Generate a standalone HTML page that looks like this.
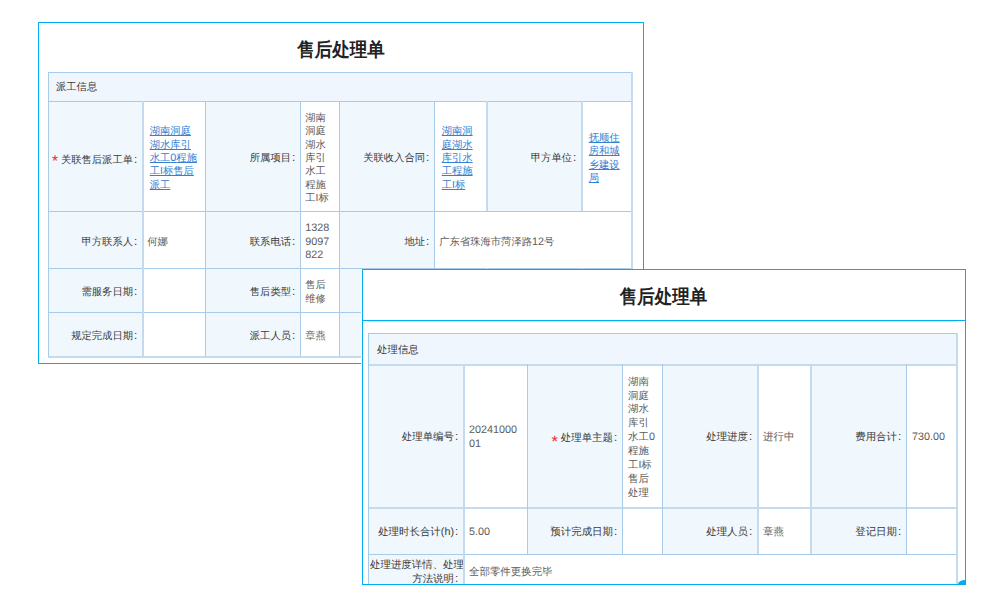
<!DOCTYPE html>
<html><head><meta charset="utf-8"><style>
html,body{margin:0;padding:0;background:#fff;}
body{width:1000px;height:600px;overflow:hidden;position:relative;font-family:"Liberation Sans",sans-serif;text-rendering:geometricPrecision;}
.panel{position:absolute;box-sizing:border-box;}
.title{position:absolute;text-align:center;font-size:17.5px;font-weight:bold;color:#222;line-height:24px;transform:scaleY(1.09);}
.t{position:absolute;display:flex;align-items:center;box-sizing:border-box;white-space:nowrap;font-size:10.3px;}
.t>div{flex:none;}
.n{font-size:10.8px;}
.c{font-size:11.5px;margin-left:1px;}
.st{color:#f0282d;font-weight:normal;font-size:15.5px;position:relative;top:3.1px;line-height:0;}
.sb{font-size:16.5px;top:5.8px;}
</style></head><body>
<div class="panel" style="left:38px;top:22px;width:606px;height:342px;border:1px solid #00aeef;"></div>
<div class="title" style="left:38px;width:606px;top:36.5px;">售后处理单</div>
<div style="position:absolute;left:48px;top:72px;width:583px;height:29px;background:#f0f6fd"></div>
<div class="t" style="left:48px;top:73.2px;width:583px;height:29px;line-height:13.33px;color:#3a3a3a;font-size:10.3px;"><div style="margin-left:8px;width:569px;text-align:left;">派工信息</div></div>
<div style="position:absolute;left:48px;top:101px;width:94px;height:110px;background:#f0f7fd"></div>
<div style="position:absolute;left:205px;top:101px;width:95px;height:110px;background:#f0f7fd"></div>
<div style="position:absolute;left:339px;top:101px;width:95px;height:110px;background:#f0f7fd"></div>
<div style="position:absolute;left:486px;top:101px;width:95px;height:110px;background:#f0f7fd"></div>
<div style="position:absolute;left:48px;top:268px;width:94px;height:44px;background:#f0f7fd"></div>
<div style="position:absolute;left:205px;top:268px;width:95px;height:44px;background:#f0f7fd"></div>
<div style="position:absolute;left:339px;top:268px;width:95px;height:44px;background:#f0f7fd"></div>
<div style="position:absolute;left:486px;top:268px;width:95px;height:44px;background:#f0f7fd"></div>
<div style="position:absolute;left:48px;top:312px;width:94px;height:44px;background:#f0f7fd"></div>
<div style="position:absolute;left:205px;top:312px;width:95px;height:44px;background:#f0f7fd"></div>
<div style="position:absolute;left:339px;top:312px;width:95px;height:44px;background:#f0f7fd"></div>
<div style="position:absolute;left:486px;top:312px;width:95px;height:44px;background:#f0f7fd"></div>
<div style="position:absolute;left:48px;top:211px;width:94px;height:57px;background:#f0f7fd"></div>
<div style="position:absolute;left:205px;top:211px;width:95px;height:57px;background:#f0f7fd"></div>
<div style="position:absolute;left:339px;top:211px;width:95px;height:57px;background:#f0f7fd"></div>
<div class="t" style="left:48px;top:105.6px;width:94px;height:110px;line-height:13.33px;color:#3a3a3a;font-size:10.3px;"><div style="margin-left:2px;width:87.2px;text-align:right;"><b class="st">*</b> 关联售后派工单<span class="c">:</span></div></div>
<div class="t" style="left:142px;top:103.8px;width:63px;height:110px;line-height:13.33px;color:#3580d0;font-size:10.3px;"><div style="margin-left:7.75px;width:55.25px;text-align:left;text-decoration:underline;">湖南洞庭<br>湖水库引<br>水工<span class="n">0</span>程施<br>工I标售后<br>派工</div></div>
<div class="t" style="left:205px;top:103.8px;width:95px;height:110px;line-height:13.33px;color:#3a3a3a;font-size:10.3px;"><div style="margin-left:2px;width:88.2px;text-align:right;">所属项目<span class="c">:</span></div></div>
<div class="t" style="left:300px;top:103.8px;width:39px;height:110px;line-height:13.33px;color:#5c5c5c;font-size:10.3px;"><div style="margin-left:5.3px;width:31.700000000000003px;text-align:left;">湖南<br>洞庭<br>湖水<br>库引<br>水工<br>程施<br>工I标</div></div>
<div class="t" style="left:339px;top:103.8px;width:95px;height:110px;line-height:13.33px;color:#3a3a3a;font-size:10.3px;"><div style="margin-left:2px;width:88.2px;text-align:right;">关联收入合同<span class="c">:</span></div></div>
<div class="t" style="left:434px;top:103.8px;width:52px;height:110px;line-height:13.33px;color:#3580d0;font-size:10.3px;"><div style="margin-left:7.75px;width:44.25px;text-align:left;text-decoration:underline;">湖南洞<br>庭湖水<br>库引水<br>工程施<br>工I标</div></div>
<div class="t" style="left:486px;top:103.8px;width:95px;height:110px;line-height:13.33px;color:#3a3a3a;font-size:10.3px;"><div style="margin-left:2px;width:88.2px;text-align:right;">甲方单位<span class="c">:</span></div></div>
<div class="t" style="left:581px;top:103.8px;width:50px;height:110px;line-height:13.33px;color:#3580d0;font-size:10.3px;"><div style="margin-left:7.75px;width:42.25px;text-align:left;text-decoration:underline;">抚顺住<br>房和城<br>乡建设<br>局</div></div>
<div class="t" style="left:48px;top:213.8px;width:94px;height:57px;line-height:13.33px;color:#3a3a3a;font-size:10.3px;"><div style="margin-left:2px;width:87.2px;text-align:right;">甲方联系人<span class="c">:</span></div></div>
<div class="t" style="left:142px;top:213.8px;width:63px;height:57px;line-height:13.33px;color:#5c5c5c;font-size:10.3px;"><div style="margin-left:5.3px;width:55.7px;text-align:left;">何娜</div></div>
<div class="t" style="left:205px;top:213.8px;width:95px;height:57px;line-height:13.33px;color:#3a3a3a;font-size:10.3px;"><div style="margin-left:2px;width:88.2px;text-align:right;">联系电话<span class="c">:</span></div></div>
<div class="t" style="left:300px;top:213.8px;width:39px;height:57px;line-height:13.33px;color:#5c5c5c;font-size:10.3px;"><div style="margin-left:5.3px;width:31.700000000000003px;text-align:left;"><span class="n">1328</span><br><span class="n">9097</span><br><span class="n">822</span></div></div>
<div class="t" style="left:339px;top:213.8px;width:95px;height:57px;line-height:13.33px;color:#3a3a3a;font-size:10.3px;"><div style="margin-left:2px;width:88.2px;text-align:right;">地址<span class="c">:</span></div></div>
<div class="t" style="left:434px;top:213.8px;width:197px;height:57px;line-height:13.33px;color:#5c5c5c;font-size:10.3px;"><div style="margin-left:5.3px;width:189.7px;text-align:left;">广东省珠海市菏泽路<span class="n">12</span>号</div></div>
<div class="t" style="left:48px;top:270.8px;width:94px;height:44px;line-height:13.33px;color:#3a3a3a;font-size:10.3px;"><div style="margin-left:2px;width:87.2px;text-align:right;">需服务日期<span class="c">:</span></div></div>
<div class="t" style="left:205px;top:270.8px;width:95px;height:44px;line-height:13.33px;color:#3a3a3a;font-size:10.3px;"><div style="margin-left:2px;width:88.2px;text-align:right;">售后类型<span class="c">:</span></div></div>
<div class="t" style="left:300px;top:270.8px;width:39px;height:44px;line-height:13.33px;color:#5c5c5c;font-size:10.3px;"><div style="margin-left:5.3px;width:31.700000000000003px;text-align:left;">售后<br>维修</div></div>
<div class="t" style="left:48px;top:314.8px;width:94px;height:44px;line-height:13.33px;color:#3a3a3a;font-size:10.3px;"><div style="margin-left:2px;width:87.2px;text-align:right;">规定完成日期<span class="c">:</span></div></div>
<div class="t" style="left:205px;top:314.8px;width:95px;height:44px;line-height:13.33px;color:#3a3a3a;font-size:10.3px;"><div style="margin-left:2px;width:88.2px;text-align:right;">派工人员<span class="c">:</span></div></div>
<div class="t" style="left:300px;top:314.8px;width:39px;height:44px;line-height:13.33px;color:#5c5c5c;font-size:10.3px;"><div style="margin-left:5.3px;width:31.700000000000003px;text-align:left;">章燕</div></div>
<div style="position:absolute;left:48px;top:72px;width:585px;height:1px;background:#a9cbea"></div>
<div style="position:absolute;left:48px;top:101px;width:585px;height:1px;background:#a9cbea"></div>
<div style="position:absolute;left:48px;top:211px;width:585px;height:1px;background:#a9cbea"></div>
<div style="position:absolute;left:48px;top:268px;width:585px;height:1px;background:#a9cbea"></div>
<div style="position:absolute;left:48px;top:312px;width:585px;height:1px;background:#a9cbea"></div>
<div style="position:absolute;left:48px;top:356px;width:585px;height:2px;background:#c3daef"></div>
<div style="position:absolute;left:48px;top:72px;width:1px;height:285px;background:#a9cbea"></div>
<div style="position:absolute;left:631px;top:72px;width:2px;height:285px;background:#c3daef"></div>
<div style="position:absolute;left:142px;top:101px;width:2px;height:255px;background:#c3daef"></div>
<div style="position:absolute;left:205px;top:101px;width:1px;height:255px;background:#a9cbea"></div>
<div style="position:absolute;left:300px;top:101px;width:1px;height:255px;background:#a9cbea"></div>
<div style="position:absolute;left:339px;top:101px;width:1px;height:255px;background:#a9cbea"></div>
<div style="position:absolute;left:434px;top:101px;width:1px;height:255px;background:#a9cbea"></div>
<div style="position:absolute;left:486px;top:101px;width:2px;height:110px;background:#c3daef"></div>
<div style="position:absolute;left:486px;top:268px;width:2px;height:88px;background:#c3daef"></div>
<div style="position:absolute;left:581px;top:101px;width:2px;height:110px;background:#c3daef"></div>
<div style="position:absolute;left:581px;top:268px;width:2px;height:88px;background:#c3daef"></div>
<div class="panel" style="left:361px;top:269px;width:605px;height:316px;background:#fff;"></div>
<div class="title" style="left:361.5px;width:604px;top:283.6px;">售后处理单</div>
<div style="position:absolute;left:0;top:0;width:1000px;height:584px;overflow:hidden;">
<div style="position:absolute;left:368px;top:333px;width:588px;height:31px;background:#f0f6fd"></div>
<div class="t" style="left:368px;top:335px;width:588px;height:31px;line-height:13.9px;color:#3a3a3a;font-size:10.45px;"><div style="margin-left:9px;width:573px;text-align:left;">处理信息</div></div>
<div style="position:absolute;left:368px;top:364px;width:95px;height:143px;background:#f0f7fd"></div>
<div style="position:absolute;left:527px;top:364px;width:95px;height:143px;background:#f0f7fd"></div>
<div style="position:absolute;left:662px;top:364px;width:95px;height:143px;background:#f0f7fd"></div>
<div style="position:absolute;left:810px;top:364px;width:96px;height:143px;background:#f0f7fd"></div>
<div style="position:absolute;left:368px;top:507px;width:95px;height:47px;background:#f0f7fd"></div>
<div style="position:absolute;left:527px;top:507px;width:95px;height:47px;background:#f0f7fd"></div>
<div style="position:absolute;left:662px;top:507px;width:95px;height:47px;background:#f0f7fd"></div>
<div style="position:absolute;left:810px;top:507px;width:96px;height:47px;background:#f0f7fd"></div>
<div style="position:absolute;left:368px;top:554px;width:95px;height:36px;background:#f0f7fd"></div>
<div class="t" style="left:368px;top:366.7px;width:95px;height:143px;line-height:13.9px;color:#3a3a3a;font-size:10.45px;"><div style="margin-left:2px;width:88.2px;text-align:right;">处理单编号<span class="c">:</span></div></div>
<div class="t" style="left:463px;top:366.7px;width:64px;height:143px;line-height:13.9px;color:#5c5c5c;font-size:10.45px;"><div style="margin-left:6px;width:56px;text-align:left;"><span class="n">20241000</span><br><span class="n">01</span></div></div>
<div class="t" style="left:527px;top:367.9px;width:95px;height:143px;line-height:13.9px;color:#3a3a3a;font-size:10.45px;"><div style="margin-left:2px;width:88.2px;text-align:right;"><b class="st sb">*</b> 处理单主题<span class="c">:</span></div></div>
<div class="t" style="left:622px;top:366.7px;width:40px;height:143px;line-height:13.9px;color:#5c5c5c;font-size:10.45px;"><div style="margin-left:6px;width:32px;text-align:left;">湖南<br>洞庭<br>湖水<br>库引<br>水工<span class="n">0</span><br>程施<br>工I标<br>售后<br>处理</div></div>
<div class="t" style="left:662px;top:366.7px;width:95px;height:143px;line-height:13.9px;color:#3a3a3a;font-size:10.45px;"><div style="margin-left:2px;width:88.2px;text-align:right;">处理进度<span class="c">:</span></div></div>
<div class="t" style="left:757px;top:366.7px;width:53px;height:143px;line-height:13.9px;color:#5c5c5c;font-size:10.45px;"><div style="margin-left:6px;width:45px;text-align:left;">进行中</div></div>
<div class="t" style="left:810px;top:366.7px;width:96px;height:143px;line-height:13.9px;color:#3a3a3a;font-size:10.45px;"><div style="margin-left:2px;width:89.2px;text-align:right;">费用合计<span class="c">:</span></div></div>
<div class="t" style="left:906px;top:366.7px;width:50px;height:143px;line-height:13.9px;color:#5c5c5c;font-size:10.45px;"><div style="margin-left:6px;width:42px;text-align:left;"><span class="n">730.00</span></div></div>
<div class="t" style="left:368px;top:509.7px;width:95px;height:47px;line-height:13.9px;color:#3a3a3a;font-size:10.45px;"><div style="margin-left:2px;width:88.2px;text-align:right;">处理时长合计<span class="n">(h)</span><span class="c">:</span></div></div>
<div class="t" style="left:463px;top:509.7px;width:64px;height:47px;line-height:13.9px;color:#5c5c5c;font-size:10.45px;"><div style="margin-left:6px;width:56px;text-align:left;"><span class="n">5.00</span></div></div>
<div class="t" style="left:527px;top:509.7px;width:95px;height:47px;line-height:13.9px;color:#3a3a3a;font-size:10.45px;"><div style="margin-left:2px;width:88.2px;text-align:right;">预计完成日期<span class="c">:</span></div></div>
<div class="t" style="left:662px;top:509.7px;width:95px;height:47px;line-height:13.9px;color:#3a3a3a;font-size:10.45px;"><div style="margin-left:2px;width:88.2px;text-align:right;">处理人员<span class="c">:</span></div></div>
<div class="t" style="left:757px;top:509.7px;width:53px;height:47px;line-height:13.9px;color:#5c5c5c;font-size:10.45px;"><div style="margin-left:6px;width:45px;text-align:left;">章燕</div></div>
<div class="t" style="left:810px;top:509.7px;width:96px;height:47px;line-height:13.9px;color:#3a3a3a;font-size:10.45px;"><div style="margin-left:2px;width:89.2px;text-align:right;">登记日期<span class="c">:</span></div></div>
<div class="t" style="left:368px;top:554.7px;width:95px;height:36px;line-height:13.9px;color:#3a3a3a;font-size:10.45px;"><div style="margin-left:2px;width:88.2px;text-align:right;">处理进度详情、处理<br>方法说明<span class="c">:</span></div></div>
<div class="t" style="left:463px;top:555.1px;width:493px;height:36px;line-height:13.9px;color:#5c5c5c;font-size:10.45px;"><div style="margin-left:6px;width:485px;text-align:left;">全部零件更换完毕</div></div>
<div style="position:absolute;left:368px;top:333px;width:590px;height:1px;background:#a9cbea"></div>
<div style="position:absolute;left:368px;top:364px;width:590px;height:2px;background:#c3daef"></div>
<div style="position:absolute;left:368px;top:507px;width:590px;height:2px;background:#c3daef"></div>
<div style="position:absolute;left:368px;top:554px;width:590px;height:1px;background:#a9cbea"></div>
<div style="position:absolute;left:368px;top:590px;width:590px;height:1px;background:#a9cbea"></div>
<div style="position:absolute;left:368px;top:333px;width:1px;height:258px;background:#a9cbea"></div>
<div style="position:absolute;left:956px;top:333px;width:2px;height:258px;background:#c3daef"></div>
<div style="position:absolute;left:463px;top:364px;width:2px;height:226px;background:#c3daef"></div>
<div style="position:absolute;left:527px;top:364px;width:1px;height:190px;background:#a9cbea"></div>
<div style="position:absolute;left:622px;top:364px;width:1px;height:190px;background:#a9cbea"></div>
<div style="position:absolute;left:662px;top:364px;width:1px;height:190px;background:#a9cbea"></div>
<div style="position:absolute;left:757px;top:364px;width:2px;height:190px;background:#c3daef"></div>
<div style="position:absolute;left:810px;top:364px;width:2px;height:190px;background:#c3daef"></div>
<div style="position:absolute;left:906px;top:364px;width:1px;height:190px;background:#a9cbea"></div>
</div>
<div style="position:absolute;left:362px;top:269px;width:604px;height:1px;background:#00aeef"></div>
<div style="position:absolute;left:362px;top:269px;width:1px;height:316px;background:#00aeef"></div>
<div style="position:absolute;left:965px;top:269px;width:1px;height:316px;background:#00aeef"></div>
<div style="position:absolute;left:362px;top:584px;width:604px;height:1px;background:#00aeef"></div>
<div style="position:absolute;left:362px;top:320px;width:604px;height:1px;background:#00aeef"></div>
<div style="position:absolute;left:368px;top:321px;width:589px;height:1px;background:#cfe0f0"></div>
<div style="position:absolute;left:958px;top:580px;width:7px;height:4px;background:#00aeef;border-top-left-radius:100% 100%;"></div>
</body></html>
